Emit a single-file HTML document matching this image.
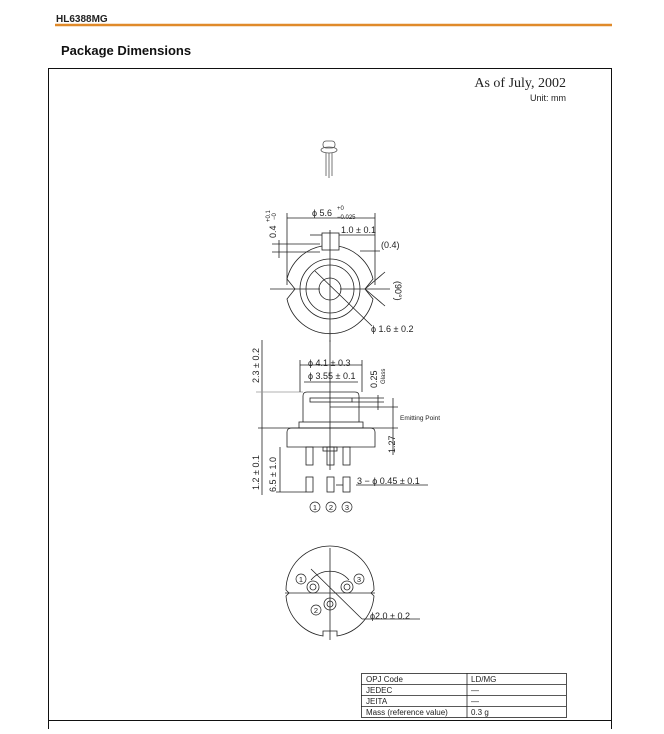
<!DOCTYPE html>
<html><head><style>
body{margin:0;width:664px;height:729px;background:#fff;overflow:hidden;font-family:"Liberation Sans",sans-serif}
</style></head><body>
<svg width="664" height="729" viewBox="0 0 664 729" xmlns="http://www.w3.org/2000/svg" font-family="Liberation Sans, sans-serif">
<text x="56" y="22" font-size="10" font-weight="bold" fill="#222">HL6388MG</text>
<line x1="55" y1="25" x2="612" y2="25" stroke="#e08a2a" stroke-width="2.5"/>
<text x="61" y="55" font-size="13" font-weight="bold" fill="#111">Package Dimensions</text>
<rect x="48.5" y="68.5" width="563" height="690" fill="none" stroke="#111" stroke-width="1"/>
<line x1="48" y1="720.5" x2="612" y2="720.5" stroke="#111"/>
<text x="566" y="87" font-size="14" text-anchor="end" font-family="Liberation Serif, serif" fill="#222">As of July, 2002</text>
<text x="566" y="101" font-size="9" text-anchor="end" fill="#222">Unit: mm</text>

<g stroke="#555" fill="none" stroke-width="0.8">
<rect x="323" y="141" width="12" height="7" rx="3"/>
<ellipse cx="329" cy="150" rx="8" ry="3"/>
<line x1="326" y1="153" x2="326" y2="176"/><line x1="329" y1="153" x2="329" y2="178"/><line x1="332" y1="153" x2="332" y2="176"/>
</g>

<g stroke="#222" fill="none" stroke-width="0.8">
<!-- top view -->
<path d="M 322 246 A 44 44 0 0 0 287 279 L 295 289 L 287 299 A 44 44 0 0 0 373 299 L 365 289 L 373 279 A 44 44 0 0 0 338 246"/>
<rect x="322" y="233" width="17" height="17" fill="#fff"/>
<circle cx="330" cy="289" r="30"/>
<circle cx="330" cy="289" r="24"/>
<circle cx="330" cy="289" r="11"/>
<line x1="270" y1="289" x2="320" y2="289"/><line x1="340" y1="289" x2="390" y2="289"/>
<line x1="330" y1="230" x2="330" y2="342"/>
<line x1="315" y1="271" x2="372" y2="326"/>
<line x1="365" y1="289" x2="385" y2="272"/><line x1="365" y1="289" x2="385" y2="306"/>
<line x1="287" y1="213" x2="287" y2="285"/><line x1="375" y1="213" x2="375" y2="285"/>
<line x1="287" y1="218" x2="375" y2="218"/>
<line x1="310" y1="235" x2="322" y2="235"/><line x1="339" y1="235" x2="375" y2="235"/>
<line x1="272" y1="244" x2="320" y2="244"/><line x1="272" y1="252" x2="320" y2="252"/>
<line x1="279" y1="240" x2="279" y2="258"/>
<line x1="360" y1="251" x2="380" y2="251"/>
<!-- side view -->
<path d="M303 422 L303 396 Q303 392 307 392 L355 392 Q359 392 359 396 L359 422"/>
<rect x="299" y="422" width="64" height="6"/>
<path d="M287 447 L287 432 Q287 428 292 428 L370 428 Q375 428 375 432 L375 447 Z"/>
<rect x="310" y="398" width="42" height="4"/>
<rect x="306" y="447" width="7" height="18"/><rect x="327" y="447" width="7" height="18"/><rect x="343" y="447" width="7" height="18"/>
<rect x="323" y="447" width="14" height="4"/>
<rect x="306" y="477" width="7" height="15"/><rect x="327" y="477" width="7" height="15"/><rect x="343" y="477" width="7" height="15"/>
<line x1="330" y1="340" x2="330" y2="470"/>
<line x1="262" y1="340" x2="262" y2="495"/>
<line x1="256" y1="392" x2="303" y2="392" stroke="#999"/>
<line x1="258" y1="428" x2="398" y2="428"/>
<line x1="300" y1="365" x2="362" y2="365"/><line x1="300" y1="360" x2="300" y2="392"/><line x1="362" y1="360" x2="362" y2="392"/>
<line x1="304" y1="382" x2="358" y2="382"/>
<line x1="352" y1="398" x2="384" y2="398"/><line x1="352" y1="402" x2="384" y2="402"/>
<line x1="378" y1="395" x2="378" y2="410"/>
<line x1="330" y1="407" x2="398" y2="407"/>
<line x1="393" y1="398" x2="393" y2="455"/>
<line x1="280" y1="447" x2="280" y2="492"/>
<line x1="276" y1="492" x2="306" y2="492"/>
<line x1="336" y1="485" x2="343" y2="485"/>
<line x1="356" y1="485" x2="428" y2="485"/>
<!-- bottom view -->
<path d="M323 636 A44 44 0 0 1 286 596 L289 593 L286 590 A44 44 0 0 1 374 590 L371 593 L374 596 A44 44 0 0 1 337 636 L337 631 L323 631 Z"/>
<path d="M311 580 A25 25 0 0 1 349 580"/>
<line x1="330" y1="548" x2="330" y2="640"/>
<line x1="285" y1="593" x2="375" y2="593"/>
<line x1="311" y1="569" x2="362" y2="619"/>
<line x1="362" y1="619" x2="420" y2="619"/>
<circle cx="313" cy="587" r="6"/><circle cx="313" cy="587" r="3"/>
<circle cx="347" cy="587" r="6"/><circle cx="347" cy="587" r="3"/>
<circle cx="330" cy="604" r="6"/><circle cx="330" cy="604" r="3"/>
</g>
<g font-size="9" fill="#222">
<text x="312" y="216">ϕ 5.6</text><text x="337" y="210" font-size="6">+0</text><text x="337" y="219" font-size="6">−0.025</text>
<text x="341" y="233">1.0 ± 0.1</text>
<text x="381" y="248">(0.4)</text>
<text x="371" y="332">ϕ 1.6 ± 0.2</text>
<text transform="translate(276,238) rotate(-90)">0.4</text>
<text transform="translate(270,222) rotate(-90)" font-size="6">+0.1</text>
<text transform="translate(276,220) rotate(-90)" font-size="6">−0</text>
<text transform="translate(395,281) rotate(90)">(90°)</text>
<text x="308" y="366">ϕ 4.1 ± 0.3</text>
<text x="308" y="379">ϕ 3.55 ± 0.1</text>
<text transform="translate(259,383) rotate(-90)">2.3 ± 0.2</text>
<text transform="translate(377,388) rotate(-90)">0.25</text>
<text transform="translate(385,384) rotate(-90)" font-size="6">Glass</text>
<text x="400" y="420" font-size="6.5">Emitting Point</text>
<text transform="translate(395,453) rotate(-90)">1.27</text>
<text transform="translate(259,490) rotate(-90)">1.2 ± 0.1</text>
<text transform="translate(276,492) rotate(-90)">6.5 ± 1.0</text>
<text x="357" y="484">3 − ϕ 0.45 ± 0.1</text>
<text x="370" y="619">ϕ2.0 ± 0.2</text>
</g>
<g stroke="#222" stroke-width="0.7" fill="none">
<circle cx="315" cy="507" r="5"/><circle cx="331" cy="507" r="5"/><circle cx="347" cy="507" r="5"/>
<circle cx="301" cy="579" r="5"/><circle cx="316" cy="610" r="5"/><circle cx="359" cy="579" r="5"/>
</g>
<g font-size="7.5" fill="#222" text-anchor="middle">
<text x="315" y="510">1</text><text x="331" y="510">2</text><text x="347" y="510">3</text>
<text x="301" y="582">1</text><text x="316" y="613">2</text><text x="359" y="582">3</text>
</g>
<g stroke="#222" stroke-width="0.8" fill="none">
<rect x="361.5" y="673.5" width="205" height="44"/>
<line x1="467" y1="673" x2="467" y2="718"/>
<line x1="361" y1="684.5" x2="566" y2="684.5"/>
<line x1="361" y1="695.5" x2="566" y2="695.5"/>
<line x1="361" y1="706.5" x2="566" y2="706.5"/>
</g>
<g font-size="8" fill="#222">
<text x="366" y="682">OPJ Code</text><text x="471" y="682">LD/MG</text>
<text x="366" y="693">JEDEC</text><text x="471" y="693">—</text>
<text x="366" y="704">JEITA</text><text x="471" y="704">—</text>
<text x="366" y="715">Mass (reference value)</text><text x="471" y="715">0.3 g</text>
</g>
</svg>
</body></html>
